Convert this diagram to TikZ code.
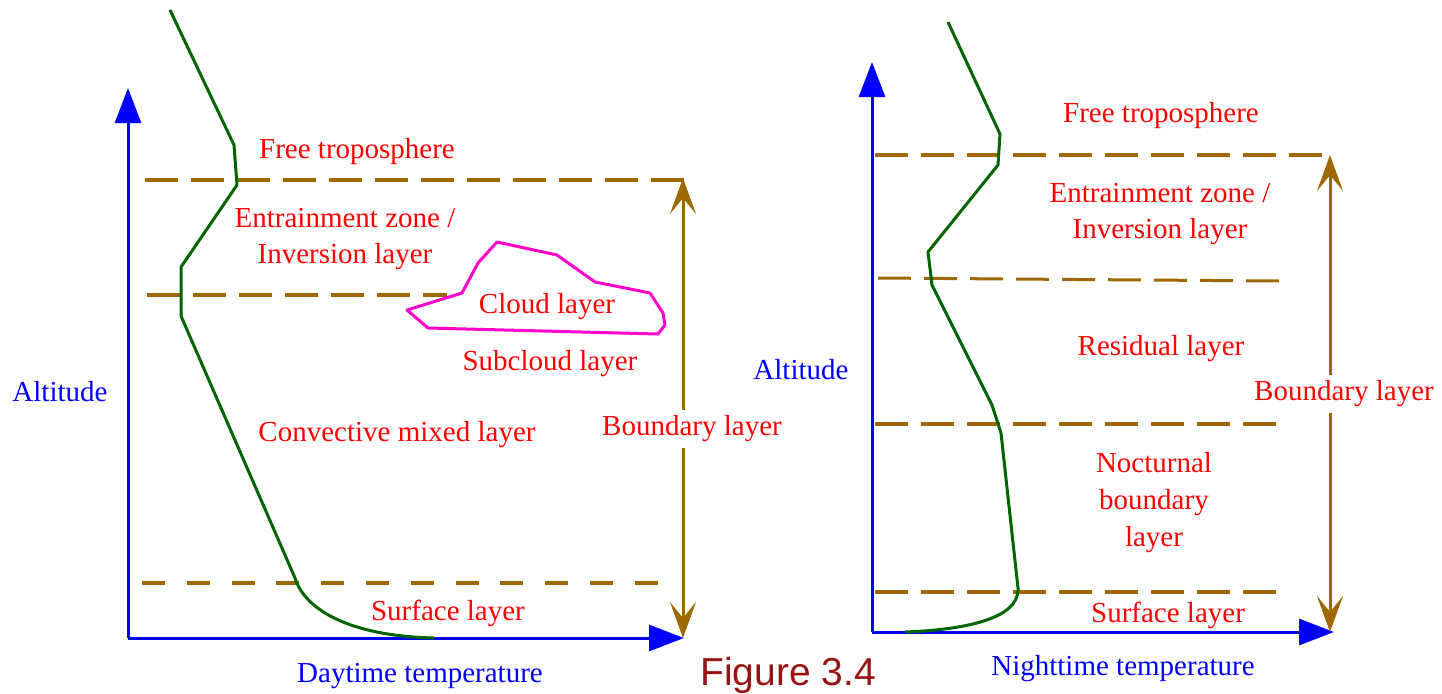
\documentclass[tikz,border=0pt]{standalone}
\usepackage{fontspec}
\setmainfont{Liberation Serif}
\newfontfamily\figfont{Liberation Sans}
\usetikzlibrary{arrows.meta}
\definecolor{axisblue}{RGB}{0,0,255}
\definecolor{brownline}{RGB}{158,104,0}
\definecolor{curvegreen}{RGB}{0,100,0}
\definecolor{cloudmag}{RGB}{255,0,204}
\definecolor{labelred}{RGB}{255,0,0}
\definecolor{figred}{RGB}{150,20,20}
\tikzset{
  axis/.style={draw=axisblue, line width=1.5pt, -{Triangle[width=13pt,length=17.5pt]}},
  layerline/.style={draw=brownline, line width=2pt, dash pattern=on 16.5pt off 6.5pt},
  layerlineb/.style={draw=brownline, line width=2pt, dash pattern=on 11pt off 11pt},
  blarrow/.style={draw=brownline, line width=1.5pt, {Stealth[width=13pt,length=18pt,inset=8pt]}-{Stealth[width=13pt,length=18pt,inset=8pt]}},
  profile/.style={draw=curvegreen, line width=1.5pt, line join=round},
  cloud/.style={draw=cloudmag, line width=1.5pt, line join=round},
  lbl/.style={text=labelred, font=\fontsize{14.5}{18}\selectfont, align=center, inner sep=0pt},
  bllbl/.style={lbl, fill=white, inner ysep=3pt, inner xsep=1pt},
  axlbl/.style={text=axisblue, font=\fontsize{14.5}{18}\selectfont, inner sep=0pt},
}
\begin{document}
\begin{tikzpicture}[x=0.5pt,y=-0.5pt]
\useasboundingbox (0,0) rectangle (1442,693);
% ---------- left panel ----------
\coordinate (LO) at (128,638);
\coordinate (LY) at (128,88);
\coordinate (LX) at (684,638);
\coordinate (LBt) at (683,178);
\coordinate (LBb) at (683,638);
\draw[axis] (LO) -- (LY);
\draw[axis] (LO) -- (LX);
\coordinate (L1a) at (145,180); \coordinate (L1b) at (691,180);
\coordinate (L2a) at (147,295); \coordinate (L2b) at (447,295);
\coordinate (L3a) at (142,583); \coordinate (L3b) at (664,583);
\draw[layerline] (L1a) -- (L1b);
\draw[layerline] (L2a) -- (L2b);
\draw[layerlineb, dash pattern=on 11.5pt off 10.9pt] (L3a) -- (L3b);
\draw[blarrow] (LBt) -- (LBb);
\draw[profile] (170,10) -- (234,145) -- (237,185) -- (181,267) -- (181,316) -- (295,578)
  .. controls (305,610) and (350,636) .. (434,638);
\draw[cloud] (407,310) -- (462,293) -- (478,263) -- (497,242) -- (557,255) -- (595,282)
  -- (650,293) -- (663,313) -- (665,325) -- (658,334) -- (428,328) -- cycle;
\node[lbl] (lft) at (357,152) {Free troposphere};
\node[lbl] (lez) at (345,239) {Entrainment zone /\\Inversion layer};
\node[lbl] (lcl) at (547,307) {Cloud layer};
\node[lbl] (lsc) at (550,364) {Subcloud layer};
\node[lbl] (lcm) at (397,435) {Convective mixed layer};
\node[bllbl] (lbl1) at (692,429) {Boundary layer};
\node[lbl] (lsl) at (448,613) {Surface layer};
\node[axlbl] (lalt) at (60,392) {Altitude};
\node[axlbl] (ltemp) at (420,676) {Daytime temperature};
% ---------- right panel ----------
\coordinate (RO) at (872,632);
\coordinate (RY) at (872,62);
\coordinate (RX) at (1334,632);
\coordinate (RBt) at (1330,155);
\coordinate (RBb) at (1330,632);
\draw[axis] (RO) -- (RY);
\draw[axis] (RO) -- (RX);
\coordinate (R1a) at (875,155); \coordinate (R1b) at (1330,155);
\coordinate (R2a) at (878,278); \coordinate (R2b) at (1280,281);
\coordinate (R3a) at (875,424); \coordinate (R3b) at (1280,424);
\coordinate (R4a) at (875,592); \coordinate (R4b) at (1280,592);
\draw[layerline] (R1a) -- (R1b);
\draw[layerline, line width=1.5pt] (R2a) -- (R2b);
\draw[layerline] (R3a) -- (R3b);
\draw[layerline] (R4a) -- (R4b);
\draw[blarrow] (RBt) -- (RBb);
\draw[profile] (948,22) -- (1000,134) -- (998,165) -- (928,252) -- (932,285) -- (992,405)
  -- (1001,433) -- (1018,588) .. controls (1020,620) and (960,630) .. (905,632);
\node[lbl] (rft) at (1161,116) {Free troposphere};
\node[lbl] (rez) at (1160,214) {Entrainment zone /\\Inversion layer};
\node[lbl] (rrl) at (1161,349) {Residual layer};
\node[lbl, font=\fontsize{14.5}{18.5}\selectfont] (rnb) at (1154,503) {Nocturnal\\boundary\\layer};
\node[lbl] (rsl) at (1168,615) {Surface layer};
\node[bllbl] (rbl) at (1344,394) {Boundary layer};
\node[axlbl] (ralt) at (801,370) {Altitude};
\node[axlbl] (rtemp) at (1123,669) {Nighttime temperature};
\node[text=figred, font=\figfont\fontsize{19.5}{22}\selectfont, inner sep=0pt] (fig) at (788,675) {Figure 3.4};
\end{tikzpicture}
\end{document}
